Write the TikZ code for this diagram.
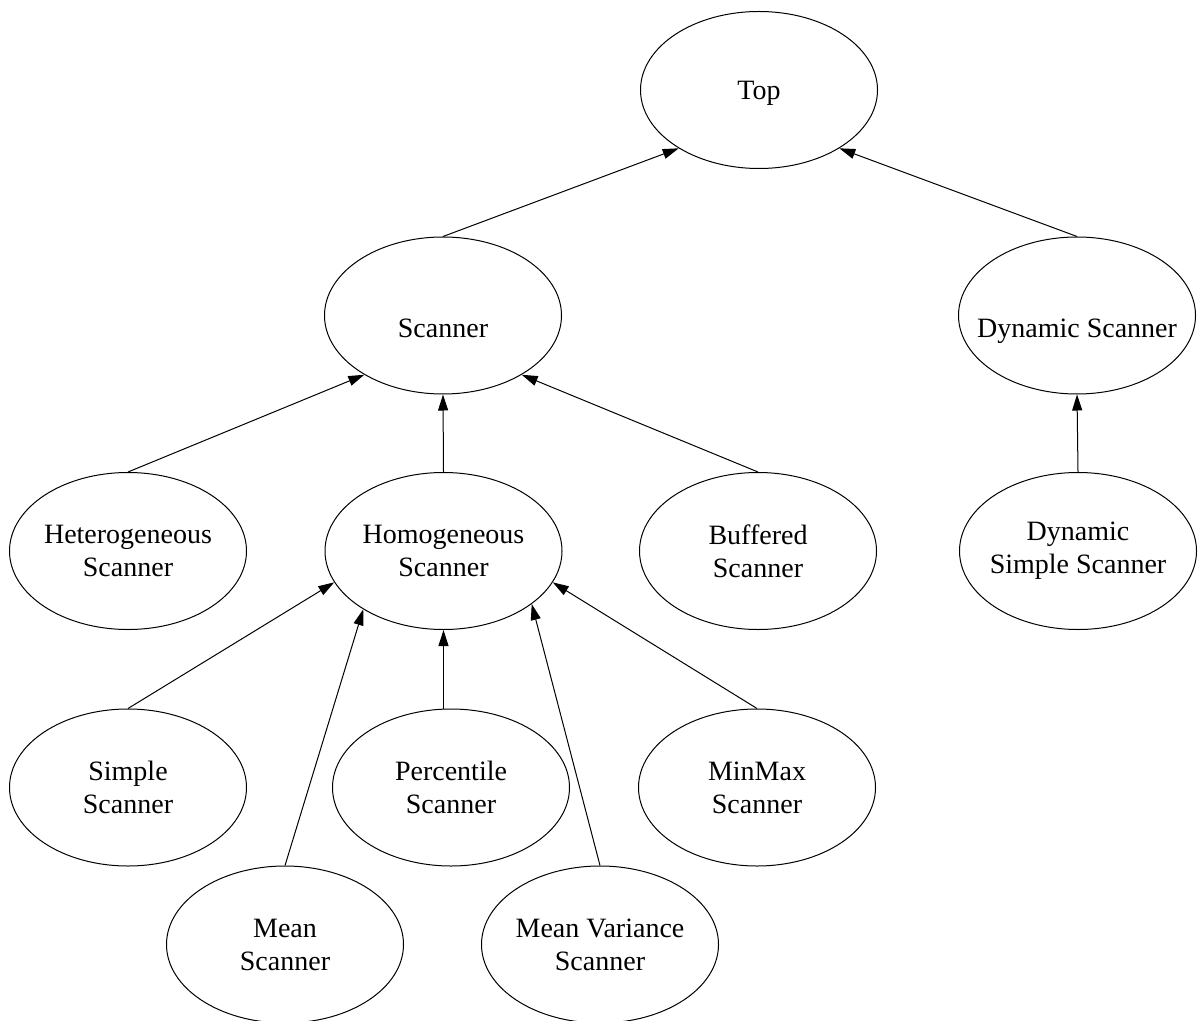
\documentclass[tikz,border=0pt]{standalone}
\usepackage{fontspec}
\setmainfont{Liberation Serif}
\usetikzlibrary{shapes,arrows.meta,positioning}

\begin{document}
\begin{tikzpicture}[x=0.5pt, y=-0.5pt,
    cls/.style={draw, ellipse, line width=0.5pt, minimum width=118.5pt, minimum height=78.5pt,
        inner xsep=-12pt, inner ysep=0pt, align=center, font=\fontsize{14}{16.5}\selectfont},
    inh/.style={-{Triangle[length=8pt,width=5pt]}, line width=0.5pt}]
    \useasboundingbox (0,0) rectangle (1198,1021);

    % Classes
    \node[cls, text height=12.5pt] (top) at (759,90) {Top};
    \node[cls, text height=22pt] (scanner) at (443,315.5) {Scanner};
    \node[cls, text height=25pt] (dyn) at (1077,315.5) {Dynamic Scanner};
    \node[cls] (het) at (128,551) {Heterogeneous\\Scanner};
    \node[cls] (hom) at (443.5,551) {Homogeneous\\Scanner};
    \node[cls] (buf) at (758,551) {Buffered\\Scanner};
    \node[cls] (dsimple) at (1078,551) {Dynamic\\Simple Scanner};
    \node[cls] (simple) at (128,787.5) {Simple\\Scanner};
    \node[cls] (perc) at (451,787.5) {Percentile\\Scanner};
    \node[cls] (minmax) at (757,787.5) {MinMax\\Scanner};
    \node[cls] (mean) at (285,944.5) {Mean\\Scanner};
    \node[cls] (mv) at (600,944.5) {Mean Variance\\Scanner};

    % Inheritance
    \draw[inh] (scanner.north) -- (top.216);
    \draw[inh] (dyn.north) -- (top.324);
    \draw[inh] (het.north) -- (scanner.217);
    \draw[inh] (hom.north) -- (scanner.south);
    \draw[inh] (buf.north) -- (scanner.323);
    \draw[inh] (dsimple.north) -- (dyn.south);
    \draw[inh] (simple.north) -- (hom.196);
    \draw[inh] (mean.north) -- (hom.216);
    \draw[inh] (perc.north -| hom.south) -- (hom.south);
    \draw[inh] (mv.north) -- (hom.329);
    \draw[inh] (minmax.north) -- (hom.344);
\end{tikzpicture}
\end{document}
